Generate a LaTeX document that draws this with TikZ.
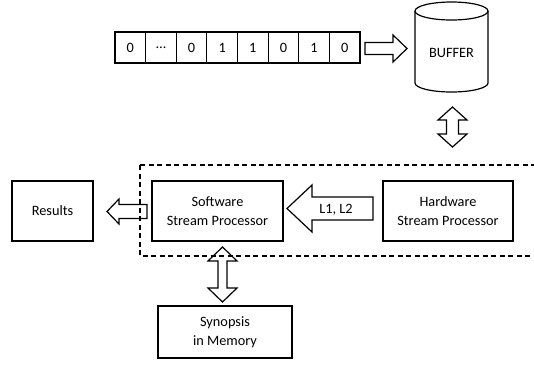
\documentclass[tikz,border=0pt]{standalone}
\usepackage{fontspec}
\setmainfont{Carlito}
\newcommand\hblockarrow[6]{% tail x, tip x, y, half shaft, half head, head length
  \draw[blockarrow] (#1,{#3-#4}) -- ({#2-(#6)*sign(#2-#1)},{#3-#4}) -- ({#2-(#6)*sign(#2-#1)},{#3-#5})
    -- (#2,#3) -- ({#2-(#6)*sign(#2-#1)},{#3+#5}) -- ({#2-(#6)*sign(#2-#1)},{#3+#4}) -- (#1,{#3+#4}) -- cycle;}
\newcommand\vdblockarrow[6]{% x, y1, y2, half shaft, half head, head length
  \draw[blockarrow] (#1,#2) -- ({#1+#5},{#2+#6}) -- ({#1+#4},{#2+#6}) -- ({#1+#4},{#3-#6}) -- ({#1+#5},{#3-#6})
    -- (#1,#3) -- ({#1-#5},{#3-#6}) -- ({#1-#4},{#3-#6}) -- ({#1-#4},{#2+#6}) -- ({#1-#5},{#2+#6}) -- cycle;}
\begin{document}
\begin{tikzpicture}[x=1pt,y=-1pt,line width=1.2pt,
  every node/.style={font=\fontsize{14.3}{19}\selectfont, inner sep=0pt},
  box/.style={draw, align=center},
  bit/.style={draw, minimum width=30.625pt, minimum height=31pt},
  blockarrow/.style={draw, line width=1.2pt, line join=miter},
  group/.style={draw, dash pattern=on 5pt off 3.5pt}]
\useasboundingbox (0,0) rectangle (534,368);
% bit array
\foreach \t [count=\i] in {0,…,0,1,1,0,1,0}
  \node[bit] (b\i) at ({115+30.625*(\i-0.5)},47.5) {\t};
% buffer cylinder
\draw (415,11) -- (415,83) arc[start angle=180,end angle=360,x radius=36.5,y radius=-9] -- (488,11);
\draw (451.5,11) ellipse[x radius=36.5,y radius=9];
\node (buffer) at (451.5,53) {BUFFER};
% group
\draw[group] (140,165) -- (545,165) (140,165) -- (140,256) -- (545,256);
% boxes
\node[box, minimum width=81pt, minimum height=60pt] (results) at (52.5,211) {Results};
\node[box, minimum width=131pt, minimum height=60pt] (software) at (217.5,211) {Software\\Stream Processor};
\node[box, minimum width=130pt, minimum height=60pt] (hardware) at (448,211) {Hardware\\Stream Processor};
\node[box, minimum width=134pt, minimum height=52pt] (synopsis) at (225,332) {Synopsis\\in Memory};
% block arrows
\hblockarrow{365}{407}{48.5}{6}{13.5}{14}
\hblockarrow{373}{287}{208.5}{11.5}{23.5}{25}
\node (l12) at (336,210) {L1, L2};
\hblockarrow{147}{107}{211.5}{7}{12.5}{12}
\vdblockarrow{452.5}{107}{147}{6}{14.5}{13}
\vdblockarrow{222.5}{247}{302}{4.5}{14.5}{14}
\end{tikzpicture}
\end{document}
